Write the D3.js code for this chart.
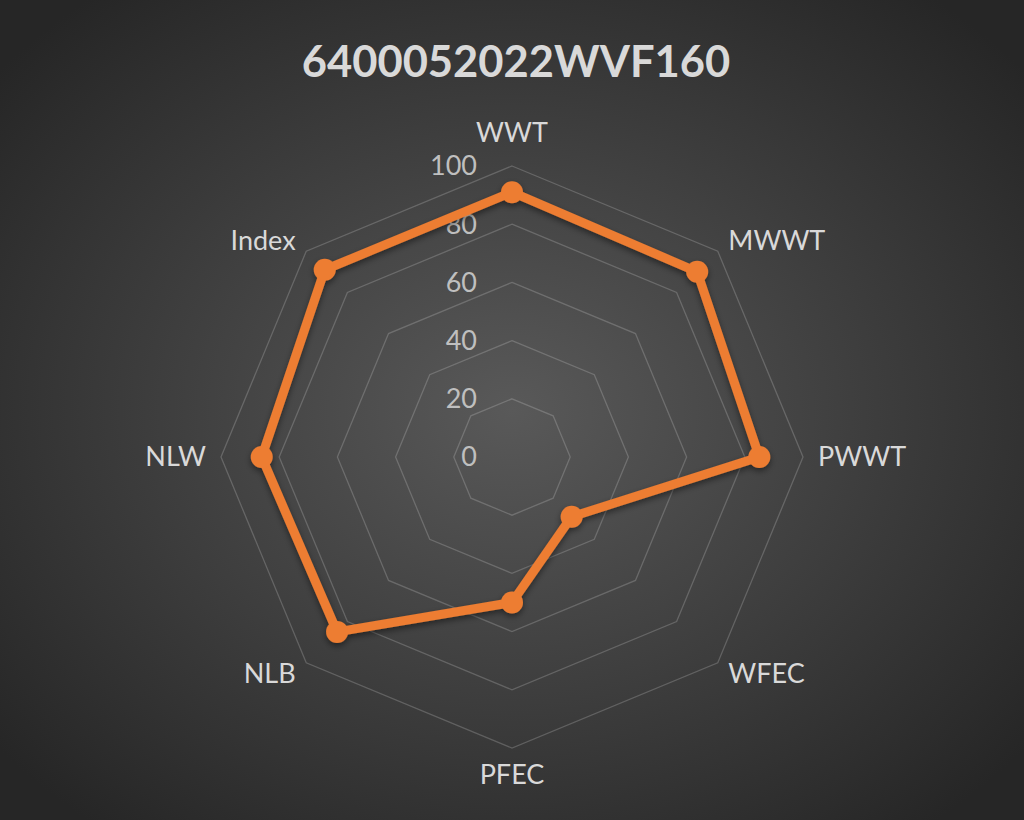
<!DOCTYPE html>
<html>

<head>
    <meta charset="UTF-8">
    <style>
        body { margin: 0; background: #262626; }
        svg { display: block; font-family: Lato, "Open Sans", sans-serif; }
    </style>
</head>

<body>
    <svg></svg>
    <script src="https://d3js.org/d3.v7.min.js"></script>

    <script>

        let width = 1024, height = 820;

        // chart data
        const title = "6400052022WVF160";
        const categories = ["WWT", "MWWT", "PWWT", "WFEC", "PFEC", "NLB", "NLW", "Index"];
        const values = [91, 90, 85, 29, 50, 85, 86, 91];
        const ticks = [0, 20, 40, 60, 80, 100];

        let svg = d3.select("svg")
            .attr("width", width)
            .attr("height", height)
            .attr("viewBox", "0 0 " + width + " " + height);

        let defs = svg.append("defs");

        // radial background like the excel dark style
        let grad = defs.append("radialGradient")
            .attr("id", "bg")
            .attr("cx", "50%").attr("cy", "50%").attr("r", "65%");
        grad.append("stop").attr("offset", "0%").attr("stop-color", "#595959");
        grad.append("stop").attr("offset", "100%").attr("stop-color", "#262626");

        let shadow = defs.append("filter")
            .attr("id", "shadow")
            .attr("x", "-20%").attr("y", "-20%").attr("width", "140%").attr("height", "140%");
        shadow.append("feDropShadow")
            .attr("dx", 0).attr("dy", 3)
            .attr("stdDeviation", 3)
            .attr("flood-color", "#000")
            .attr("flood-opacity", 0.45);

        svg.append("rect")
            .attr("width", width)
            .attr("height", height)
            .attr("fill", "url(#bg)");

        svg.append("text")
            .attr("x", 516)
            .attr("y", 77)
            .attr("text-anchor", "middle")
            .attr("fill", "#d9d9d9")
            .style("font-size", "43.5px")
            .style("font-weight", "bold")
            .text(title);

        let cx = 512, cy = 457;

        let r = d3.scaleLinear()
            .domain([0, 100])
            .range([0, 291]);

        let angle = d3.scalePoint()
            .domain(categories)
            .range([0, 2 * Math.PI * (categories.length - 1) / categories.length]);

        let g = svg.append("g")
            .attr("transform", "translate(" + cx + "," + cy + ")");

        // octagon grid rings
        let ring = d3.lineRadial()
            .angle(d => angle(d))
            .curve(d3.curveLinearClosed);

        g.append("g")
            .attr("id", "grid")
            .selectAll("path")
            .data(ticks.filter(t => t > 0))
            .enter()
            .append("path")
            .attr("d", t => ring.radius(() => r(t))(categories))
            .attr("fill", "none")
            .attr("stroke", "#d9d9d9")
            .attr("stroke-opacity", 0.24)
            .attr("stroke-width", 1.3);

        // value axis labels
        g.append("g")
            .selectAll("text")
            .data(ticks)
            .enter()
            .append("text")
            .attr("x", -35)
            .attr("y", t => -r(t))
            .attr("dy", "0.35em")
            .attr("text-anchor", "end")
            .attr("fill", "#bfbfbf")
            .style("font-size", "27px")
            .text(t => t);

        // category labels
        let labelDist = 306;
        g.append("g")
            .selectAll("text")
            .data(categories)
            .enter()
            .append("text")
            .attr("x", d => labelDist * Math.sin(angle(d)))
            .attr("y", d => {
                let c = Math.cos(angle(d));
                if (c > 0.9) return -labelDist - 9;
                if (c < -0.9) return labelDist + 21;
                return -labelDist * c;
            })
            .attr("dy", d => Math.abs(Math.cos(angle(d))) > 0.9 ? 0 : "0.35em")
            .attr("text-anchor", d => {
                let s = Math.sin(angle(d));
                if (s > 0.1) return "start";
                if (s < -0.1) return "end";
                return "middle";
            })
            .attr("fill", "#d9d9d9")
            .style("font-size", "27px")
            .text(d => d);

        // series
        let line = d3.lineRadial()
            .angle((d, i) => angle(categories[i]))
            .radius(d => r(d))
            .curve(d3.curveLinearClosed);

        let series = g.append("g")
            .attr("filter", "url(#shadow)");

        series.append("path")
            .attr("d", line(values))
            .attr("fill", "none")
            .attr("stroke", "#ed7d31")
            .attr("stroke-width", 9)
            .attr("stroke-linejoin", "round");

        series.selectAll("circle")
            .data(values)
            .enter()
            .append("circle")
            .attr("cx", (d, i) => r(d) * Math.sin(angle(categories[i])))
            .attr("cy", (d, i) => -r(d) * Math.cos(angle(categories[i])))
            .attr("r", 11)
            .attr("fill", "#ed7d31");

    </script>
</body>

</html>
